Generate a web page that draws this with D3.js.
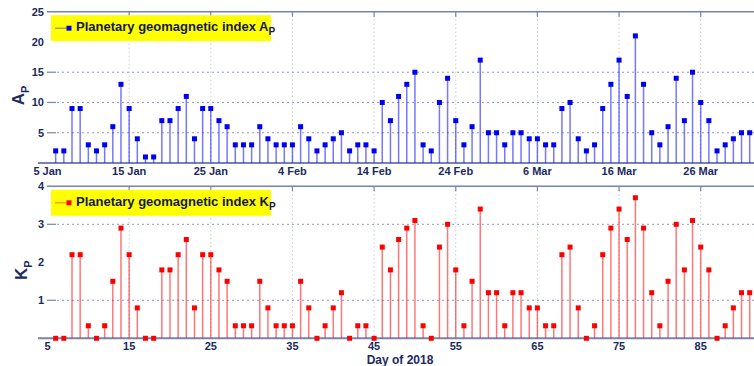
<!DOCTYPE html>
<html>
<head>
<meta charset="utf-8">
<script src="https://cdn.jsdelivr.net/npm/d3@7"></script>
<style>
  body { margin: 0; background: #fff; }
  text { font-family: "Liberation Sans", Arial, sans-serif; }
</style>
</head>
<body>
<svg id="chart" width="754" height="366"></svg>
<script>
// day-of-year of the first sample (6 Jan 2018)
const firstDay = 6;

// planetary geomagnetic index Ap, one value per day
const apValues = [2, 2, 9, 9, 3, 2, 3, 6, 13, 9, 4, 1, 1, 7, 7, 9, 11, 4, 9, 9,
  7, 6, 3, 3, 3, 6, 4, 3, 3, 3, 6, 4, 2, 3, 4, 5, 2, 3, 3, 2,
  10, 7, 11, 13, 15, 3, 2, 10, 14, 7, 3, 6, 17, 5, 5, 3, 5, 5, 4, 4,
  3, 3, 9, 10, 4, 2, 3, 9, 13, 17, 11, 21, 13, 5, 3, 6, 14, 7, 15, 10,
  7, 2, 3, 4, 5, 5];

// planetary geomagnetic index Kp, same days
const kpValues = [0, 0, 2.2, 2.2, 0.33, 0, 0.33, 1.5, 2.9, 2.2, 0.8, 0, 0, 1.8, 1.8, 2.2, 2.6, 0.8, 2.2, 2.2,
  1.8, 1.5, 0.33, 0.33, 0.33, 1.5, 0.8, 0.33, 0.33, 0.33, 1.5, 0.8, 0, 0.33, 0.8, 1.2, 0, 0.33, 0.33, 0,
  2.4, 1.8, 2.6, 2.9, 3.1, 0.33, 0, 2.4, 3.0, 1.8, 0.33, 1.5, 3.4, 1.2, 1.2, 0.33, 1.2, 1.2, 0.8, 0.8,
  0.33, 0.33, 2.2, 2.4, 0.8, 0, 0.33, 2.2, 2.9, 3.4, 2.6, 3.7, 2.9, 1.2, 0.33, 1.5, 3.0, 1.8, 3.1, 2.4,
  1.8, 0, 0.33, 0.8, 1.2, 1.2];

const tickDays = [5, 15, 25, 35, 45, 55, 65, 75, 85];
const dateLabels = ["5 Jan", "15 Jan", "25 Jan", "4 Feb", "14 Feb", "24 Feb", "6 Mar", "16 Mar", "26 Mar"];
const dayLabels = ["5", "15", "25", "35", "45", "55", "65", "75", "85"];
const apTicks = [5, 10, 15, 20, 25];
const kpTicks = [1, 2, 3, 4];
const apGrid = [5, 10, 15];
const kpGrid = [1, 3];

const days = apValues.map((d, i) => firstDay + i);

const textColor = "#1b2a5e";
const spineColor = "#7584b2";

const svg = d3.select("#chart");
const x = d3.scaleLinear().domain([5, 92]).range([47.5, 47.5 + 87 * 8.165]);
const left = 47, right = 754;

function panel(o) {
  const y = d3.scaleLinear().domain([0, o.max]).range([o.bottom, o.top]);
  const g = svg.append("g");

  // vertical dotted grid
  g.selectAll(".vgrid").data(tickDays.slice(1)).enter().append("line")
    .attr("x1", d => x(d)).attr("x2", d => x(d))
    .attr("y1", o.top).attr("y2", o.bottom)
    .attr("stroke", "#aab4d6").attr("stroke-width", 1)
    .attr("stroke-dasharray", "1,3");

  // horizontal dotted grid
  g.selectAll(".hgrid").data(o.grid).enter().append("line")
    .attr("x1", left + 10).attr("x2", right)
    .attr("y1", d => y(d)).attr("y2", d => y(d))
    .attr("stroke", "#8c98c4").attr("stroke-width", 1)
    .attr("stroke-dasharray", "2,3");
  g.selectAll(".htick").data(o.grid).enter().append("line")
    .attr("x1", left).attr("x2", left + 9)
    .attr("y1", d => y(d)).attr("y2", d => y(d))
    .attr("stroke", spineColor).attr("stroke-width", 1.2);

  // spines
  g.append("line").attr("x1", 38).attr("x2", right)
    .attr("y1", o.bottom).attr("y2", o.bottom)
    .attr("stroke", spineColor).attr("stroke-width", 2);
  g.append("line").attr("x1", left).attr("x2", right)
    .attr("y1", o.top).attr("y2", o.top)
    .attr("stroke", spineColor).attr("stroke-width", 1.6);
  g.selectAll(".ttick").data(tickDays.slice(1)).enter().append("line")
    .attr("x1", d => x(d)).attr("x2", d => x(d))
    .attr("y1", o.top).attr("y2", o.top + 5)
    .attr("stroke", spineColor).attr("stroke-width", 1.2);

  // y tick labels
  g.selectAll(".ylab").data(o.ticks).enter().append("text")
    .attr("x", 44).attr("y", d => y(d) + 4)
    .attr("text-anchor", "end")
    .attr("font-size", 11).attr("font-weight", "bold")
    .attr("fill", textColor)
    .text(d => d);

  // x tick labels
  g.selectAll(".xlab").data(tickDays).enter().append("text")
    .attr("x", d => x(d)).attr("y", o.bottom + 12)
    .attr("text-anchor", "middle")
    .attr("font-size", 11).attr("font-weight", "bold")
    .attr("fill", textColor)
    .text((d, i) => o.xLabels[i]);

  // stems
  g.selectAll(".stem").data(o.values).enter().append("line")
    .attr("x1", (d, i) => x(days[i])).attr("x2", (d, i) => x(days[i]))
    .attr("y1", y(0)).attr("y2", d => y(d))
    .attr("stroke", o.stem).attr("stroke-width", 1.5)
    .attr("stroke-opacity", 0.6);

  // markers
  g.selectAll(".mark").data(o.values).enter().append("rect")
    .attr("x", (d, i) => x(days[i]) - 2.5).attr("y", d => y(d) - 2.5)
    .attr("width", 5).attr("height", 5)
    .attr("fill", o.color);

  // legend
  const lg = g.append("g").attr("transform", `translate(51,${o.top + 3.5})`);
  lg.append("rect").attr("width", 220).attr("height", 26).attr("fill", "#ffff00");
  lg.append("line").attr("x1", 4).attr("x2", 17).attr("y1", 13).attr("y2", 13)
    .attr("stroke", o.stem).attr("stroke-width", 1).attr("stroke-opacity", 0.6);
  lg.append("rect").attr("x", 15.5).attr("y", 10.5).attr("width", 5).attr("height", 5)
    .attr("fill", o.color);
  const lt = lg.append("text").attr("x", 25).attr("y", 16)
    .attr("font-size", 13).attr("font-weight", "bold").attr("fill", "#14184a")
    .text(o.legend);
  lt.append("tspan").attr("font-size", 10).attr("dy", 4).text("P");

  // y axis title
  const yt = svg.append("text")
    .attr("transform", `translate(${o.titleX},${(o.top + o.bottom) / 2 + 8}) rotate(-90)`)
    .attr("text-anchor", "middle")
    .attr("font-size", 17).attr("font-weight", "bold").attr("fill", textColor)
    .text(o.title);
  yt.append("tspan").attr("font-size", 11).attr("dy", 5).text("P");
}

panel({ top: 11.7, bottom: 163, max: 25, values: apValues, color: "#0000f0", stem: "#1a1aff",
  ticks: apTicks, grid: apGrid, xLabels: dateLabels,
  legend: "Planetary geomagnetic index A", title: "A", titleX: 24 });

panel({ top: 186.3, bottom: 338.3, max: 4, values: kpValues, color: "#ff0000", stem: "#ff1a1a",
  ticks: kpTicks, grid: kpGrid, xLabels: dayLabels,
  legend: "Planetary geomagnetic index K", title: "K", titleX: 27 });

svg.append("text").attr("x", 400).attr("y", 364)
  .attr("text-anchor", "middle")
  .attr("font-size", 12).attr("font-weight", "bold").attr("fill", textColor)
  .text("Day of 2018");
</script>
</body>
</html>
